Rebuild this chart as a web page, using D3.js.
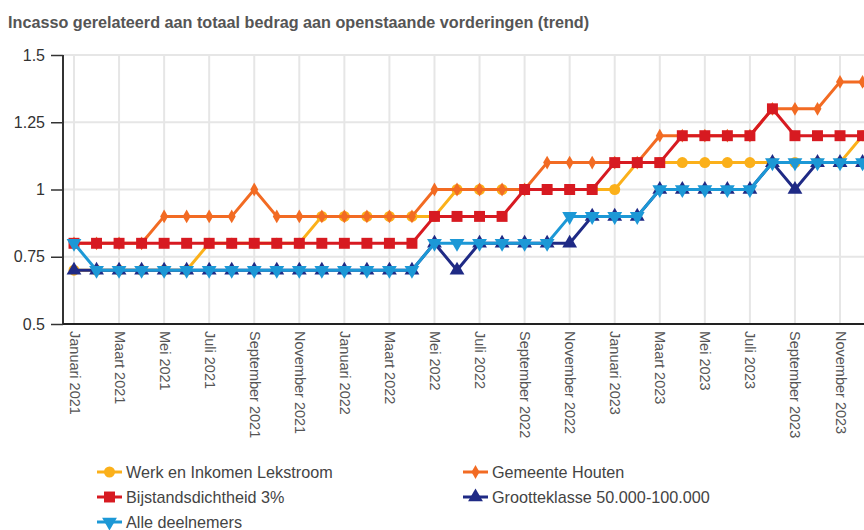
<!DOCTYPE html>
<html><head><meta charset="utf-8">
<script src="https://cdn.jsdelivr.net/npm/d3@7"></script>
<style>
html,body{margin:0;padding:0;background:#fff;}
svg{display:block;font-family:"Liberation Sans",Arial,sans-serif;}
</style></head>
<body><svg id="c" width="864" height="530"></svg>
<script>
const monthNames = ["Januari","Februari","Maart","April","Mei","Juni","Juli","Augustus","September","Oktober","November","December"];
const years = [2021, 2022, 2023];
const categories = [];
years.forEach(y => monthNames.forEach(m => categories.push(m + " " + y)));

const seriesNames = ["Werk en Inkomen Lekstroom","Gemeente Houten","Bijstandsdichtheid 3%","Grootteklasse 50.000-100.000","Alle deelnemers"];
const werk = [0.7,0.7,0.7,0.7,0.7,0.7, 0.8,0.8,0.8,0.8,0.8, 0.9,0.9,0.9,0.9,0.9, 0.9, 1.0,1.0,1.0,1.0,1.0,1.0,1.0,1.0, 1.1,1.1,1.1,1.1,1.1,1.1,1.1,1.1,1.1,1.1, 1.2];
const houten = [0.8,0.8,0.8,0.8, 0.9,0.9,0.9,0.9, 1.0, 0.9,0.9,0.9,0.9,0.9,0.9,0.9, 1.0,1.0,1.0,1.0,1.0, 1.1,1.1,1.1,1.1,1.1, 1.2,1.2,1.2,1.2,1.2, 1.3,1.3,1.3, 1.4,1.4];
const bijstand = [0.8,0.8,0.8,0.8,0.8,0.8,0.8,0.8,0.8,0.8,0.8,0.8,0.8,0.8,0.8,0.8, 0.9,0.9,0.9,0.9, 1.0,1.0,1.0,1.0, 1.1,1.1,1.1, 1.2,1.2,1.2,1.2, 1.3, 1.2,1.2,1.2,1.2];
const grootte = [0.7,0.7,0.7,0.7,0.7,0.7,0.7,0.7,0.7,0.7,0.7,0.7,0.7,0.7,0.7,0.7, 0.8, 0.7, 0.8,0.8,0.8,0.8,0.8, 0.9,0.9,0.9, 1.0,1.0,1.0,1.0,1.0, 1.1, 1.0, 1.1,1.1,1.1];
const alle = [0.8, 0.7,0.7,0.7,0.7,0.7,0.7,0.7,0.7,0.7,0.7,0.7,0.7,0.7,0.7,0.7, 0.8,0.8,0.8,0.8,0.8,0.8, 0.9,0.9,0.9,0.9, 1.0,1.0,1.0,1.0,1.0, 1.1,1.1,1.1,1.1,1.1];
const yTicks = [0.5, 0.75, 1, 1.25, 1.5];
const title = "Incasso gerelateerd aan totaal bedrag aan openstaande vorderingen (trend)";

const colors = ["#fbb01a","#f26b23","#d71a21","#1f2a85","#1c98d6"];
const symbols = [d3.symbolCircle, d3.symbolDiamond, d3.symbolSquare, d3.symbolTriangle, d3.symbolTriangle];
const symSizes = [95, 55, 120, 95, 95];
const symRot = [0,0,0,0,180];
const allSeries = [werk, houten, bijstand, grootte, alle];

const svg = d3.select("#c");
const pLeft = 63, pTop = 55, pBottom = 324;
const x = d3.scalePoint().domain(categories).range([74, 74 + 22.53*35]);
const y = d3.scaleLinear().domain([0.5, 1.5]).range([pBottom, pTop]);

svg.append("text").attr("x", 8).attr("y", 28).attr("font-size", 16.2).attr("font-weight", "bold")
  .attr("fill", "#555").text(title);

// grid
const g = svg.append("g");
g.selectAll(".hg").data(yTicks).enter().append("line")
  .attr("x1", pLeft).attr("x2", 864).attr("y1", d => y(d)).attr("y2", d => y(d))
  .attr("stroke", "#e6e6e6").attr("stroke-width", 2);
const labeled = categories.filter((c, i) => i % 2 === 0);
g.selectAll(".vg").data(labeled).enter().append("line")
  .attr("x1", d => x(d)).attr("x2", d => x(d)).attr("y1", pTop).attr("y2", pBottom)
  .attr("stroke", "#e6e6e6").attr("stroke-width", 2);

// y axis
const yAxis = svg.append("g").attr("transform", `translate(${pLeft},0)`)
  .call(d3.axisLeft(y).tickValues(yTicks).tickSize(12).tickPadding(6).tickFormat(d => String(d)));
yAxis.select(".domain").attr("stroke", "#333").attr("stroke-width", 2).attr("d", `M0,${pTop}V${pBottom}`);
yAxis.selectAll(".tick line").attr("stroke", "#333").attr("stroke-width", 1.5);
yAxis.selectAll(".tick text").attr("font-size", 16).attr("fill", "#333").attr("font-family", "Liberation Sans, Arial, sans-serif");

// x axis
const xAxis = svg.append("g").attr("transform", `translate(0,${pBottom})`)
  .call(d3.axisBottom(x).tickValues(labeled).tickSize(0));
xAxis.select(".domain").attr("stroke", "#222").attr("stroke-width", 2).attr("d", `M${pLeft},0H864`);
xAxis.selectAll(".tick text")
  .attr("font-size", 14.5).attr("fill", "#555").attr("font-family", "Liberation Sans, Arial, sans-serif")
  .attr("text-anchor", "start").attr("dy", null).attr("y", 0)
  .attr("transform", "translate(-5,7) rotate(90)");

// lines
const line = d3.line().x((d, i) => x(categories[i])).y(d => y(d));
allSeries.forEach((s, k) => {
  const sg = svg.append("g");
  sg.append("path").datum(s).attr("d", line).attr("fill", "none")
    .attr("stroke", colors[k]).attr("stroke-width", 3).attr("stroke-linejoin", "round");
  sg.selectAll("path.m").data(s).enter().append("path").attr("class", "m")
    .attr("d", d3.symbol().type(symbols[k]).size(symSizes[k]))
    .attr("transform", (d, i) => `translate(${x(categories[i])},${y(d)}) rotate(${symRot[k]})`)
    .attr("fill", colors[k]);
});

// legend
const legPos = [[97,472],[463,472],[97,497],[463,497],[97,522]];
seriesNames.forEach((n, k) => {
  const [lx, ly] = legPos[k];
  const lg = svg.append("g").attr("transform", `translate(${lx},${ly})`);
  lg.append("line").attr("x1", 0).attr("x2", 25).attr("y1", 0).attr("y2", 0)
    .attr("stroke", colors[k]).attr("stroke-width", 3);
  lg.append("path").attr("d", d3.symbol().type(symbols[k]).size(symSizes[k]))
    .attr("transform", `translate(12.5,0) rotate(${symRot[k]})`).attr("fill", colors[k]);
  lg.append("text").attr("x", 29).attr("y", 5.5).attr("font-size", 16.2).attr("fill", "#444").text(n);
});
</script></body></html>
